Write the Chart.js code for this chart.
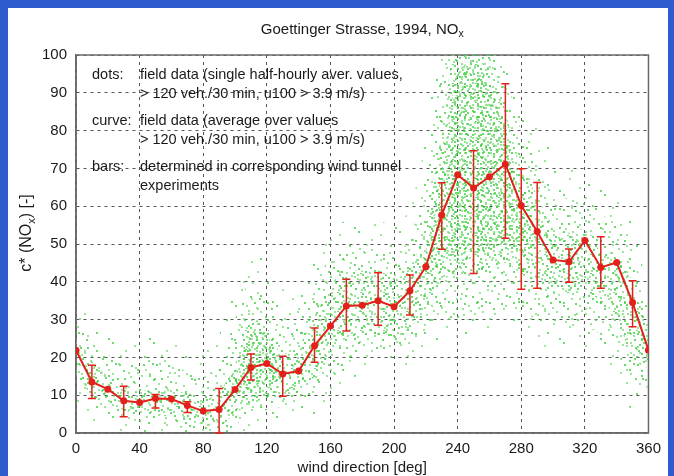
<!DOCTYPE html>
<html lang="en">
<head>
  <meta charset="UTF-8" />
  <title>Goettinger Strasse, 1994, NOx</title>
  <script src="https://cdn.jsdelivr.net/npm/chart.js"></script>
  <style>
    body {
      margin: 0;
      background: #2f5ccc;
      font-family: 'Liberation Sans', Arial, sans-serif;
      overflow: hidden;
    }
    .panel {
      position: absolute;
      left: 8px;
      top: 8px;
      width: 660px;
      height: 468px;
      background: #fff;
    }
  </style>
</head>
<body>
  <div class="panel">
    <canvas id="noxChart" width="660" height="468"></canvas>
  </div>

  <script>
    // wind direction [deg] and averaged field data (red curve)
    const directions = [0, 10, 20, 30, 40, 50, 60, 70, 80, 90, 100, 110, 120, 130, 140, 150, 160, 170, 180,
      190, 200, 210, 220, 230, 240, 250, 260, 270, 280, 290, 300, 310, 320, 330, 340, 350, 360];
    const fieldMean = [21.9, 13.5, 11.6, 8.5, 8.1, 9.1, 9.0, 7.3, 5.8, 6.2, 11.5, 17.3, 18.4, 15.6, 16.4, 23.1, 28.3, 33.6, 33.8,
      35.0, 33.4, 37.6, 44.0, 57.7, 68.3, 64.8, 67.8, 71.1, 60.2, 53.3, 45.8, 45.3, 50.9, 43.8, 45.1, 34.5, 21.9];

    // wind tunnel ranges (bars)
    const barDirections = [10, 30, 50, 70, 90, 110, 130, 150, 170, 190, 210, 230, 250, 270, 280, 290, 310, 330, 350];
    const barLow  = [9.1, 4.3, 6.6, 5.4, 0, 14.0, 9.7, 18.7, 27.0, 28.5, 31.2, 48.6, 42.2, 51.5, 38.0, 38.3, 39.9, 38.3, 28.1];
    const barHigh = [17.9, 12.4, 10.2, 8.3, 11.8, 20.9, 20.3, 27.8, 40.7, 42.4, 41.8, 66.2, 74.7, 92.4, 69.9, 66.3, 48.7, 51.9, 40.3];

    // extent of the half-hourly dots cloud (estimated envelopes, thin fringe -> dense core)
    const fringeLow  = [6, 3, 2, 0, 0, 0, 0, 0, 0, 0, 0, 1, 2, 3, 4, 5, 9, 13, 16, 17, 17, 18, 22, 25, 25, 25, 27, 28, 26, 24, 22, 22, 22, 20, 16, 6, 6];
    const fringeHigh = [36, 32, 27, 24, 25, 27, 25, 22, 22, 26, 38, 48, 46, 38, 40, 47, 53, 56, 56, 56, 55, 60, 78, 110, 110, 110, 110, 105, 90, 82, 74, 70, 70, 66, 62, 56, 36];
    const outerLow  = [12, 8, 6, 4, 3, 2, 2, 1, 0, 0, 2, 5, 6, 7, 8, 10, 14, 18, 21, 22, 22, 23, 27, 30, 30, 30, 32, 33, 32, 30, 28, 28, 28, 26, 22, 12, 12];
    const outerHigh = [30, 26, 21, 18, 18, 20, 19, 16, 15, 18, 30, 40, 38, 30, 33, 40, 46, 49, 49, 49, 48, 52, 68, 100, 108, 108, 108, 95, 80, 72, 65, 62, 62, 58, 55, 48, 30];
    const midLow    = [16, 10, 8, 6, 5, 5, 4, 3, 2, 2, 5, 8, 9, 10, 11, 15, 21, 25, 26, 26, 25, 28, 33, 40, 42, 42, 43, 45, 42, 40, 36, 37, 37, 35, 30, 20, 17];
    const midHigh   = [26, 19, 15, 12, 11, 12, 12, 10, 9, 11, 18, 30, 28, 21, 23, 31, 39, 43, 43, 43, 41, 44, 55, 80, 105, 105, 100, 85, 70, 63, 54, 53, 54, 48, 46, 40, 26];
    const coreLow   = [22, 14, 12, 9, 8, 9, 9, 7, 6, 6, 10, 11, 12, 15, 16, 23, 28, 34, 34, 35, 33, 37, 42, 46, 47, 47, 48, 50, 48, 53, 46, 45, 51, 44, 45, 35, 22];
    const coreHigh  = [22, 14, 12, 9, 8, 9, 9, 7, 6, 6, 14, 27, 26, 16, 16, 23, 28, 34, 34, 35, 33, 37, 48, 70, 95, 98, 92, 80, 60, 53, 46, 45, 51, 44, 45, 35, 22];

    const xTicks = [0, 40, 80, 120, 160, 200, 240, 280, 320, 360];

    const legendLines = [
      ['dots:', 'field data (single half-hourly aver. values,'],
      ['', '> 120 veh./30 min, u100 > 3.9 m/s)'],
      ['curve:', 'field data (average over values'],
      ['', '> 120 veh./30 min, u100 > 3.9 m/s)'],
      ['bars:', 'determined in corresponding wind tunnel'],
      ['', 'experiments']
    ];

    const FONT = "'Liberation Sans', Arial, sans-serif";
    const RED = '#e3201b';
    const canvas = document.getElementById('noxChart');
    const ctx = canvas.getContext('2d');

    // speckle tiles used as fill style for the dot cloud
    function speckles(w, h, dots) {
      const tile = document.createElement('canvas');
      tile.width = w;
      tile.height = h;
      const g = tile.getContext('2d');
      dots.forEach(([x, y], i) => {
        g.fillStyle = i % 2 ? 'rgba(60,205,60,0.75)' : 'rgba(110,220,110,0.7)';
        g.fillRect(x, y, 2, 2);
      });
      return ctx.createPattern(tile, 'repeat');
    }

    const fringeFill = speckles(41, 37, [[3, 4], [22, 1], [35, 9], [13, 15], [28, 22], [6, 28], [38, 31], [18, 34], [30, 14]]);
    const sparseFill = speckles(37, 31, [[2, 3], [14, 1], [27, 5], [33, 14], [8, 11], [20, 9], [30, 24], [4, 21],
      [16, 18], [24, 15], [11, 27], [35, 29], [22, 26], [0, 15], [9, 6], [29, 11], [18, 23], [5, 29], [26, 20], [12, 16]]);
    const mediumFill = speckles(23, 19, [[1, 2], [9, 0], [17, 4], [5, 8], [13, 7], [20, 11], [2, 14], [10, 13],
      [16, 17], [7, 18], [21, 1], [14, 11], [4, 4], [18, 8], [8, 15], [12, 3]]);
    const denseFill = speckles(13, 11, [[1, 1], [7, 0], [11, 4], [4, 5], [9, 8], [1, 9], [6, 10]]);

    const pts = arr => directions.map((d, i) => ({ x: d, y: arr[i] }));

    function band(arr, fill, bg) {
      return {
        data: pts(arr),
        fill: fill,
        backgroundColor: bg,
        borderWidth: 0,
        pointRadius: 0,
        tension: 0.4,
        cubicInterpolationMode: 'monotone'
      };
    }

    function subText(c, parts, x, y, size) {
      // parts: [text, isSub]
      let w = 0;
      parts.forEach(([t, sub]) => {
        c.font = (sub ? size * 0.7 : size) + 'px ' + FONT;
        w += c.measureText(t).width;
      });
      let cx = x - w / 2;
      c.textAlign = 'left';
      parts.forEach(([t, sub]) => {
        c.font = (sub ? size * 0.7 : size) + 'px ' + FONT;
        c.fillText(t, cx, sub ? y + size * 0.3 : y);
        cx += c.measureText(t).width;
      });
    }

    const decorations = {
      id: 'decorations',
      beforeDatasetsDraw(chart) {
        const a = chart.chartArea;
        const c = chart.ctx;
        c.save();
        c.strokeStyle = '#6a6a6a';
        c.lineWidth = 1.5;
        c.strokeRect(a.left, a.top, a.right - a.left, a.bottom - a.top);
        c.restore();
      },
      afterDatasetsDraw(chart) {
        const c = chart.ctx;
        const xs = chart.scales.x, ys = chart.scales.y;
        c.save();
        c.strokeStyle = RED;
        c.lineWidth = 1.5;
        barDirections.forEach((d, i) => {
          const px = xs.getPixelForValue(d);
          const top = ys.getPixelForValue(barHigh[i]);
          const bot = ys.getPixelForValue(barLow[i]);
          c.beginPath();
          c.moveTo(px, top); c.lineTo(px, bot);
          c.moveTo(px - 4, top); c.lineTo(px + 4, top);
          c.moveTo(px - 4, bot); c.lineTo(px + 4, bot);
          c.stroke();
        });
        c.restore();
      },
      afterDraw(chart) {
        const c = chart.ctx;
        const a = chart.chartArea;
        const mid = (a.left + a.right) / 2;
        c.save();
        c.fillStyle = '#1a1a1a';
        c.textBaseline = 'middle';

        subText(c, [['Goettinger Strasse, 1994, NO', false], ['x', true]], mid, 22, 15);

        c.font = '15px ' + FONT;
        c.textAlign = 'center';
        c.fillText('wind direction [deg]', mid, 460);

        c.save();
        c.translate(19, 225);
        c.rotate(-Math.PI / 2);
        subText(c, [['c* (NO', false], ['x', true], [') [-]', false]], 0, 0, 16);
        c.restore();

        c.font = '14.5px ' + FONT;
        c.textAlign = 'left';
        const rows = [67, 86, 113, 132, 159, 178];
        legendLines.forEach((ln, i) => {
          if (ln[0]) c.fillText(ln[0], 84, rows[i]);
          c.fillText(ln[1], 132, rows[i]);
        });
        c.restore();
      }
    };

    new Chart(ctx, {
      type: 'line',
      data: {
        datasets: [
          {
            data: pts(fieldMean),
            borderColor: RED,
            backgroundColor: RED,
            borderWidth: 2,
            pointRadius: 3.5,
            pointBorderWidth: 0,
            tension: 0,
            fill: false
          },
          band(fringeLow, false, 'transparent'),
          band(fringeHigh, '-1', fringeFill),
          band(outerLow, false, 'transparent'),
          band(outerHigh, '-1', sparseFill),
          band(midLow, false, 'transparent'),
          band(midHigh, '-1', mediumFill),
          band(coreLow, false, 'transparent'),
          band(coreHigh, '-1', denseFill)
        ]
      },
      options: {
        responsive: false,
        animation: false,
        devicePixelRatio: 1,
        layout: { padding: { top: 47, right: 16, left: 0, bottom: 0 } },
        plugins: {
          legend: { display: false },
          tooltip: { enabled: false },
          title: { display: false }
        },
        scales: {
          x: {
            type: 'linear',
            min: 0,
            max: 360,
            afterBuildTicks: s => { s.ticks = xTicks.map(v => ({ value: v })); },
            afterFit: s => { s.height = 43; },
            ticks: { font: { size: 15, family: FONT }, color: '#1a1a1a', padding: 7, maxRotation: 0 },
            grid: { color: '#555', lineWidth: 1, drawTicks: false },
            border: { display: true, color: '#6a6a6a', width: 1.5, dash: [3, 4] }
          },
          y: {
            min: 0,
            max: 100,
            afterFit: s => { s.width = 68; },
            ticks: { stepSize: 10, font: { size: 15, family: FONT }, color: '#1a1a1a', padding: 9 },
            grid: { color: '#555', lineWidth: 1, drawTicks: false },
            border: { display: true, color: '#6a6a6a', width: 1.5, dash: [3, 4] }
          }
        }
      },
      plugins: [decorations]
    });
  </script>
</body>
</html>
